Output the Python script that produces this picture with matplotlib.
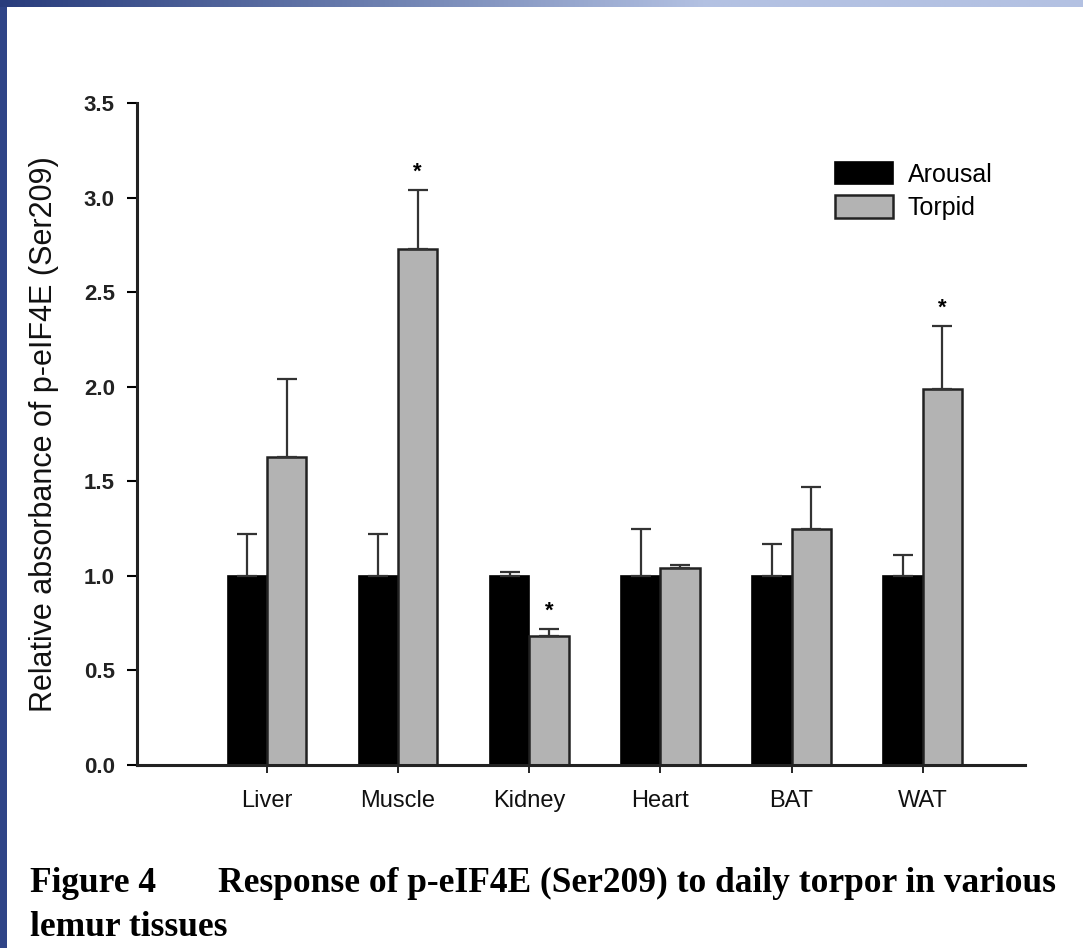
import numpy as np
import matplotlib.pyplot as plt
from matplotlib.colors import LinearSegmentedColormap

# p-eIF4E (Ser209) relative absorbance, arousal vs torpid
tissues = ["Liver", "Muscle", "Kidney", "Heart", "BAT", "WAT"]
arousal = [1.0, 1.0, 1.0, 1.0, 1.0, 1.0]
arousal_err = [0.22, 0.22, 0.02, 0.25, 0.17, 0.11]
torpid = [1.63, 2.73, 0.68, 1.04, 1.25, 1.99]
torpid_err = [0.41, 0.31, 0.04, 0.02, 0.22, 0.33]
significant = [False, True, True, False, False, True]

W, H = 1083, 948
fig = plt.figure(figsize=(W / 100, H / 100), dpi=100)
fig.patch.set_facecolor("white")

# slide frame: gradient strip on top, dark strip on the left
band = fig.add_axes([0, 1 - 7 / H, 1, 7 / H])
grad = LinearSegmentedColormap.from_list(
    "frame", [(0, "#283c7c"), (0.35, "#6d80b0"), (0.65, "#b3c1e2"), (1, "#b3c1e2")])
band.imshow(np.linspace(0, 1, 512)[None, :], aspect="auto", cmap=grad)
band.axis("off")
side = fig.add_axes([0, 0, 7 / W, 1 - 7 / H])
side.set_facecolor("#2f4487")
side.set_xticks([])
side.set_yticks([])
for sp in side.spines.values():
    sp.set_visible(False)

ax = fig.add_axes([137 / W, 1 - 765 / H, (1025 - 137) / W, (765 - 103) / H])
x = np.arange(len(tissues))
w = 0.3
err_kw = dict(ecolor="#333333", elinewidth=1.6, capsize=7, capthick=1.6)
ax.bar(x - w / 2, arousal, w, color="black", edgecolor="black", linewidth=1.2,
       yerr=[np.zeros(len(x)), arousal_err], error_kw=err_kw, label="Arousal", zorder=2)
ax.bar(x + w / 2, torpid, w, color="#b3b3b3", edgecolor="#222222", linewidth=1.8,
       yerr=[np.zeros(len(x)), torpid_err], error_kw=err_kw, label="Torpid", zorder=2)

for xi, t, e, s in zip(x, torpid, torpid_err, significant):
    if s:
        ax.text(xi + w / 2, t + e + 0.04, "*", ha="center", va="bottom",
                fontsize=16, fontweight="bold", family="Liberation Sans")

ax.set_xlim(-0.99, 5.78)
ax.set_ylim(0, 3.5)
ax.set_yticks(np.arange(0, 3.51, 0.5))
ax.set_yticklabels([f"{v:.1f}" for v in np.arange(0, 3.51, 0.5)])
ax.set_xticks(x)
ax.set_xticklabels(tissues)
for lab in ax.get_yticklabels():
    lab.set_family("Liberation Sans")
    lab.set_fontweight("bold")
    lab.set_fontsize(16)
    lab.set_color("#222222")
for lab in ax.get_xticklabels():
    lab.set_family("Liberation Sans")
    lab.set_fontsize(17)
    lab.set_color("#111111")
ax.tick_params(axis="y", direction="out", length=7, width=1.5, pad=9)
ax.tick_params(axis="x", direction="out", length=6, width=1.2, pad=12)
for side_name in ("top", "right"):
    ax.spines[side_name].set_visible(False)
for side_name in ("left", "bottom"):
    ax.spines[side_name].set_linewidth(2.2)
    ax.spines[side_name].set_color("#222222")

ax.set_ylabel("Relative absorbance of p-eIF4E (Ser209)", family="Liberation Sans",
              fontsize=22, color="#111111", labelpad=18)

leg = ax.legend(loc="upper left", bbox_to_anchor=(0.775, 0.926), frameon=False,
                borderaxespad=0, prop={"family": "Liberation Sans", "size": 18},
                handlelength=2.3, handleheight=1.0, handletextpad=0.6, labelspacing=0.35)

cap_font = {"family": "Liberation Serif", "weight": "bold", "size": 25.5, "color": "black"}
fig.text(30 / W, 1 - 883 / H, "Figure 4", va="center", ha="left", **cap_font)
fig.text(1056 / W, 1 - 883 / H, "Response of p-eIF4E (Ser209) to daily torpor in various",
         va="center", ha="right", **cap_font)
fig.text(30 / W, 1 - 927 / H, "lemur tissues", va="center", ha="left", **cap_font)

fig.savefig("out.png", dpi=100)
